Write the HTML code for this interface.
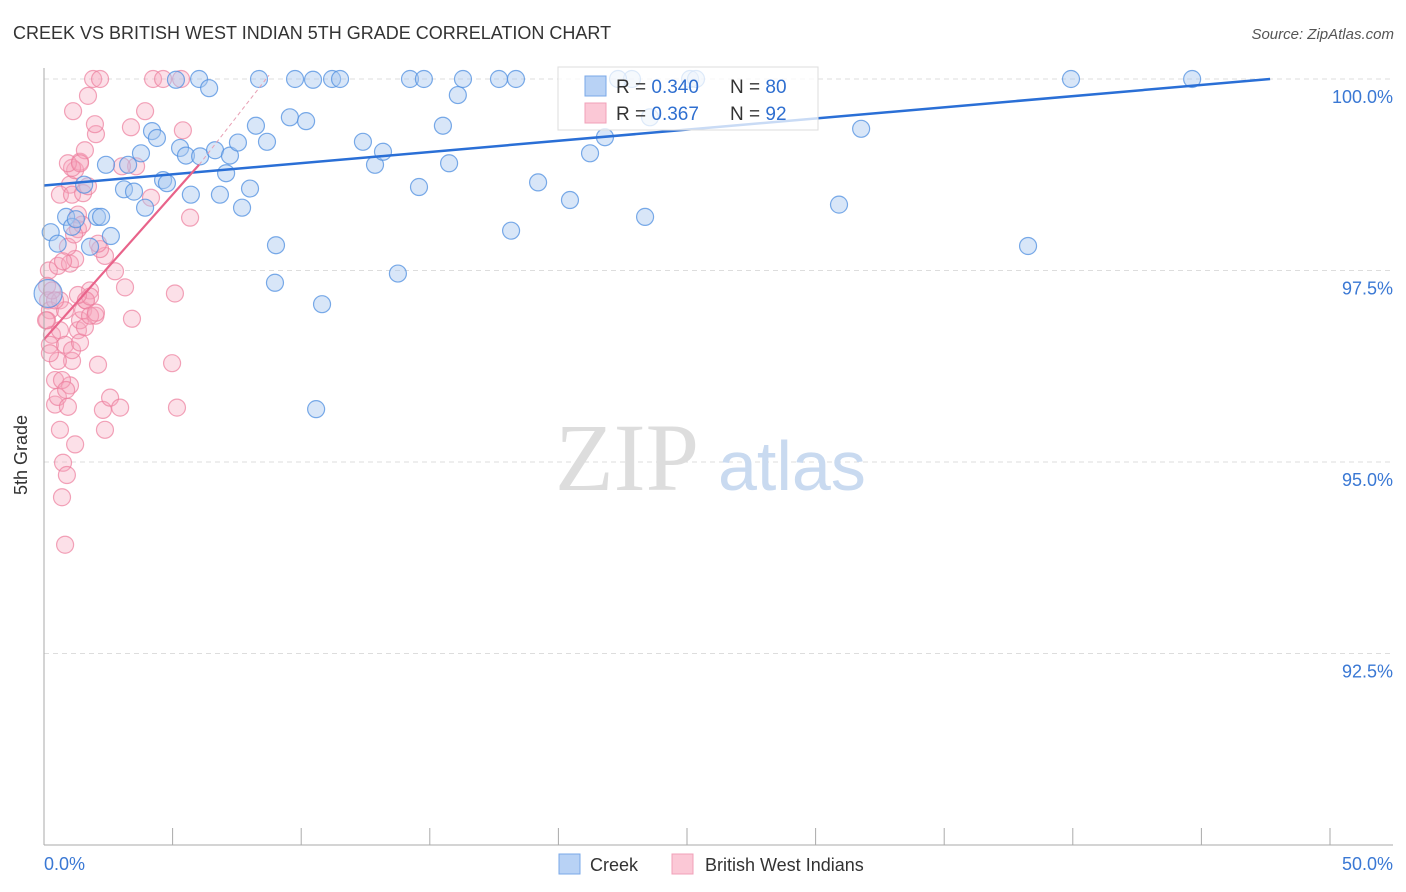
<!DOCTYPE html>
<html><head><meta charset="utf-8"><style>
body{margin:0;background:#fff;font-family:"Liberation Sans",sans-serif}
svg{display:block}
</style></head><body>
<svg width="1406" height="892" xmlns="http://www.w3.org/2000/svg">
<text x="13" y="39" font-size="18" fill="#333">CREEK VS BRITISH WEST INDIAN 5TH GRADE CORRELATION CHART</text>
<text x="1394" y="39" font-size="15" fill="#555" font-style="italic" text-anchor="end">Source: ZipAtlas.com</text>
<g id="grid"></g>
<g><text x="555" y="490" font-size="96" fill="#ddd" font-family="Liberation Serif,serif">ZIP</text><text x="718" y="490" font-size="70" fill="#c9daf0">atlas</text></g>
<g id="pts"></g>
<g id="trend"></g>
<g id="axes"></g>
<text x="27" y="455" font-size="18" fill="#333" transform="rotate(-90 27 455)" text-anchor="middle">5th Grade</text>
<g>
<rect x="558" y="67" width="260" height="63" fill="#fff" fill-opacity="0.75" stroke="#ddd"/>
<rect x="585" y="76" width="21" height="20" fill="#b8d2f5" stroke="#7aa8e8"/>
<rect x="585" y="103" width="21" height="20" fill="#fbc8d6" stroke="#f0a0b8"/>
<text x="616" y="93" font-size="19" fill="#333">R = <tspan fill="#2f6fd0">0.340</tspan><tspan x="730">N = </tspan><tspan fill="#2f6fd0">80</tspan></text>
<text x="616" y="120" font-size="19" fill="#333">R = <tspan fill="#2f6fd0"> 0.367</tspan><tspan x="730">N = </tspan><tspan fill="#2f6fd0"> 92</tspan></text>
</g>
<g>
<rect x="559" y="854" width="21" height="20" fill="#b8d2f5" stroke="#7aa8e8"/>
<text x="590" y="871" font-size="18" fill="#333">Creek</text>
<rect x="672" y="854" width="21" height="20" fill="#fbc8d6" stroke="#f0a0b8"/>
<text x="705" y="871" font-size="18" fill="#333">British West Indians</text>
</g>
</svg>
<script>
const xTicks=[0,5,10,15,20,25,30,35,40,45,50];
const yTicks=[92.5,95,97.5,100];
const yTickLabels=["92.5%","95.0%","97.5%","100.0%"];
const creekX=[0.26,0.53,0.86,1.09,1.24,1.56,1.79,2.06,2.22,2.41,2.60,3.11,3.27,3.50,3.77,3.93,4.20,4.39,4.63,4.78,5.13,5.29,5.52,5.71,6.03,6.07,6.42,6.65,6.84,7.08,7.23,7.54,7.70,8.01,8.24,8.36,8.67,9.02,8.98,9.56,9.76,10.19,10.46,10.81,11.20,11.51,10.58,12.40,12.87,13.18,13.76,14.23,14.58,14.77,15.51,15.75,16.09,16.29,17.69,18.16,18.35,19.21,20.45,21.23,21.81,22.86,23.37,23.56,25.12,25.35,30.91,31.77,38.26,39.93,44.64,22.32,0.16];
const creekY=[98.00,97.85,98.20,98.07,98.17,98.62,97.81,98.20,98.20,98.88,97.95,98.56,98.88,98.53,99.03,98.32,99.32,99.23,98.68,98.64,99.99,99.10,99.00,98.49,100,98.99,99.88,99.07,98.49,98.77,99.00,99.17,98.32,98.57,99.39,100,99.18,97.83,97.34,99.50,100,99.45,99.99,97.06,100,100,95.69,99.18,98.88,99.05,97.46,100,98.59,100,99.39,98.90,99.79,100,100,98.02,100,98.65,98.42,99.03,99.24,100,98.20,99.50,100,100,98.36,99.35,97.82,100,100,100,97.20];
const bwiX=[0.19,0.12,0.16,0.23,0.12,0.31,0.23,0.43,0.43,0.54,0.62,0.74,0.70,0.82,0.89,1.01,1.09,1.21,1.32,1.40,1.52,1.63,1.79,2.00,2.10,2.29,2.37,2.57,2.96,3.15,3.42,4.98,5.09,5.17,1.01,1.21,1.40,1.59,1.91,2.18,1.71,1.13,2.02,1.98,3.38,3.93,4.24,4.63,5.33,5.40,5.68,4.16,3.58,3.03,2.76,2.37,2.18,2.10,1.63,1.79,0.62,0.82,0.54,1.01,1.21,1.32,0.93,0.74,0.31,0.43,0.62,0.82,1.09,1.40,1.59,1.79,2.02,1.32,0.70,0.86,0.93,0.54,0.23,0.08,0.62,1.09,1.52,1.71,1.32,1.48,1.17,1.09,0.93,1.40];
const bwiY=[97.50,97.30,97.11,96.98,96.85,96.66,96.53,96.07,95.75,95.85,95.42,94.99,94.54,93.92,94.83,96.00,96.32,95.23,96.72,96.85,96.98,97.11,97.24,96.91,96.27,95.68,95.42,95.84,95.71,97.28,96.87,96.29,97.20,95.71,98.62,98.81,98.92,99.07,100,100,99.78,99.58,99.28,99.41,99.37,99.58,100,100,100,99.33,98.19,98.45,98.86,98.86,97.49,97.69,97.78,97.85,97.11,97.16,97.11,96.98,97.56,97.59,97.65,98.04,97.81,97.62,97.24,97.11,96.72,96.53,96.46,96.56,96.76,96.91,96.95,97.18,96.07,95.94,95.72,96.32,96.42,96.85,98.49,98.49,98.51,98.60,98.23,98.10,97.97,98.84,98.90,98.90];
const creekTrend=[[0,98.61],[47.67,100]];
const bwiTrend=[[0,96.60],[6.03,98.88]];
const bwiTrendDash=[[6.03,98.88],[8.75,100.05]];
const X0=44,X1=1330,Y100=79,PX25=191.5;
const sx=v=>X0+(v/50)*(X1-X0);
const sy=v=>Y100+(100-v)/2.5*PX25;
const NS="http://www.w3.org/2000/svg";
function mk(t,a,p){const e=document.createElementNS(NS,t);for(const k in a)e.setAttribute(k,a[k]);p.appendChild(e);return e;}
const grid=document.getElementById('grid'),axes=document.getElementById('axes');
yTicks.forEach((v,i)=>{
 const g=mk('line',{x1:44,x2:1393,y1:sy(v),y2:sy(v),stroke:'#ddd','stroke-dasharray':'5,4'},grid);
 
 
 const t=mk('text',{x:1393,y:sy(v)+24,'font-size':18,fill:'#3a78d4','text-anchor':'end'},axes);
 t.textContent=yTickLabels[i];
 
 
});
const yl=mk('line',{x1:44,x2:44,y1:68,y2:845,stroke:'#aaa'},axes);


const xl=mk('line',{x1:44,x2:1393,y1:845,y2:845,stroke:'#aaa'},axes);


xTicks.forEach(v=>{const l=mk('line',{x1:sx(v),x2:sx(v),y1:828,y2:845,stroke:'#aaa'},axes);
 
 });
const t0=mk('text',{x:44,y:870,'font-size':18,fill:'#3a78d4'},axes);t0.textContent='0.0%';


const t1=mk('text',{x:1393,y:870,'font-size':18,fill:'#3a78d4','text-anchor':'end'},axes);t1.textContent='50.0%';


const pts=document.getElementById('pts');
bwiX.forEach((x,i)=>{const c=mk('circle',{cx:sx(x),cy:sy(bwiY[i]),r:8.5,fill:'#f7a6bd','fill-opacity':0.35,stroke:'#ec7d9c','stroke-opacity':0.7,'stroke-width':1.2},pts);
 
 });
creekX.forEach((x,i)=>{const c=mk('circle',{cx:sx(x),cy:sy(creekY[i]),r:i==creekX.length-1?14:8.5,fill:'#a9c8f0','fill-opacity':0.45,stroke:'#4f8fe0','stroke-opacity':0.75,'stroke-width':1.2},pts);
 
 });
const tr=document.getElementById('trend');
const l1=mk('line',{x1:sx(creekTrend[0][0]),y1:sy(creekTrend[0][1]),x2:sx(creekTrend[1][0]),y2:sy(creekTrend[1][1]),stroke:'#2a6fd6','stroke-width':2.5},tr);


const l2=mk('line',{x1:sx(bwiTrend[0][0]),y1:sy(bwiTrend[0][1]),x2:sx(bwiTrend[1][0]),y2:sy(bwiTrend[1][1]),stroke:'#e8638a','stroke-width':2.2},tr);


const l3=mk('line',{x1:sx(bwiTrendDash[0][0]),y1:sy(bwiTrendDash[0][1]),x2:sx(bwiTrendDash[1][0]),y2:sy(bwiTrendDash[1][1]),stroke:'#e8a0b4','stroke-width':1,'stroke-dasharray':'4,3'},tr);


</script>
</body></html>
